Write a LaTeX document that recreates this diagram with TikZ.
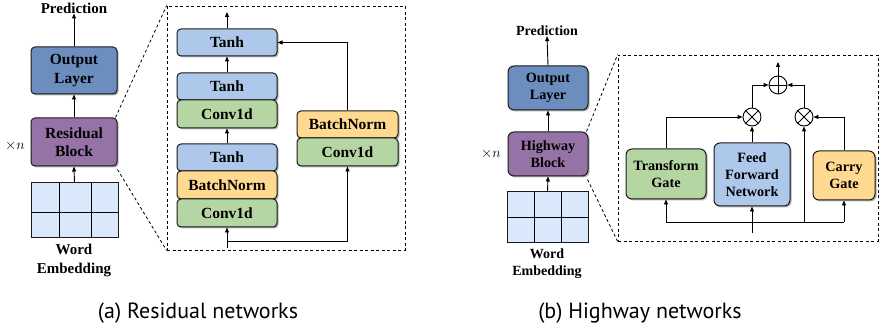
\documentclass[tikz,border=0pt]{standalone}
\usepackage{fontspec}
\setmainfont{Liberation Serif}
\newfontfamily\capfont{PT Sans}
\usetikzlibrary{arrows.meta,shadows,calc}
\definecolor{cOut}{HTML}{6C8EBF}
\definecolor{cPur}{HTML}{9673A6}
\definecolor{cBlu}{HTML}{ADC8EA}
\definecolor{cGrn}{HTML}{B5D5A2}
\definecolor{cOrg}{HTML}{FFD98F}
\definecolor{cGrid}{HTML}{DAE8FC}
\definecolor{cStroke}{HTML}{1A1A1A}
\tikzset{
  blk/.style={draw=cStroke, line width=1pt, rounded corners=4pt, align=center,
    font=\bfseries\fontsize{15.5}{18.5}\selectfont, inner sep=0pt,
    drop shadow={shadow xshift=1.5pt, shadow yshift=-1.5pt, fill=black, opacity=0.3}},
  blkR/.style={blk, font=\bfseries\fontsize{14.2}{17}\selectfont, rounded corners=6pt},
  lbl/.style={font=\bfseries\fontsize{15}{19}\selectfont, align=center, inner sep=0pt},
  lblR/.style={font=\bfseries\fontsize{14}{17}\selectfont, align=center, inner sep=0pt},
  arr/.style={-{Triangle[length=5pt,width=4pt]}, line width=0.9pt, black},
  ln/.style={line width=0.9pt, black},
  dsh/.style={dashed, line width=0.8pt, dash pattern=on 3pt off 2.5pt},
  opc/.style={circle, draw=black, line width=0.9pt, minimum size=18pt, inner sep=0pt, fill=white},
  captext/.style={font=\capfont\fontsize{22}{24}\selectfont, inner sep=0pt},
}
\begin{document}
\begin{tikzpicture}[x=1pt,y=-1pt]
\useasboundingbox[fill=white] (0,0) rectangle (879,331);

% ---------------- (a) Residual ----------------
\node[lbl] (pred1) at (74,8) {Prediction};
\node[blk, fill=cOut, minimum width=86pt, minimum height=47pt] (out1) at (74,70.5) {Output\\Layer};
\node[blk, fill=cPur, minimum width=86pt, minimum height=48pt] (res1) at (74,142) {Residual\\Block};
\node[draw=cStroke, line width=1pt, fill=cGrid, minimum width=87pt, minimum height=55pt, inner sep=0pt] (grid1) at (74.5,210.5) {};
\draw[ln] (59,183) -- (59,238) (91,183) -- (91,238) (31,212) -- (118,212);
\node[lbl] (we1) at (74,260.5) {Word\\Embedding};
\node[inner sep=0pt, font=\fontsize{14}{16}\selectfont] (xn1) at (15,146) {$\times n$};
\draw[arr] (grid1.north) -- (res1.south);
\draw[arr] (res1.north) -- (out1.south);
\draw[arr] (out1.north) -- (pred1.south);

\node[draw, dsh, minimum width=238pt, minimum height=244pt, inner sep=0pt] (box1) at (286,128) {};
\draw[dsh] ($(res1.north east)+(-2,0)$) -- (box1.north west);
\draw[dsh] ($(res1.south east)+(0,3)$) -- (box1.south west);

\node[blk, fill=cBlu, minimum width=100pt, minimum height=27pt] (t1) at (227,42.5) {Tanh};
\node[blk, fill=cBlu, minimum width=100pt, minimum height=27pt] (t2) at (227,86.5) {Tanh};
\node[blk, fill=cGrn, minimum width=100pt, minimum height=28pt] (c2) at (227,114) {Conv1d};
\node[blk, fill=cBlu, minimum width=100pt, minimum height=27pt] (t3) at (227,157.5) {Tanh};
\node[blk, fill=cOrg, minimum width=100pt, minimum height=28pt] (b3) at (227,185) {BatchNorm};
\node[blk, fill=cGrn, minimum width=100pt, minimum height=28pt] (c3) at (227,213) {Conv1d};
\node[blk, fill=cOrg, minimum width=101pt, minimum height=27pt] (b4) at (347.5,124.5) {BatchNorm};
\node[blk, fill=cGrn, minimum width=101pt, minimum height=28pt] (c4) at (347.5,152) {Conv1d};

\coordinate (o1) at (227,12);
\coordinate (in1) at (227,248);
\coordinate (br1) at (227,241);
\draw[arr] (t1.north) -- (o1);
\draw[arr] (t2.north) -- (t1.south);
\draw[arr] (t3.north) -- (c2.south);
\draw[arr] (in1) -- (c3.south);
\draw[arr] (br1) -| (c4.south);
\draw[arr] (b4.north) |- (t1.east);

% ---------------- (b) Highway ----------------
\node[lblR] (pred2) at (547,31) {Prediction};
\node[blkR, fill=cOut, minimum width=80pt, minimum height=44pt] (out2) at (548,88) {Output\\Layer};
\node[blkR, fill=cPur, minimum width=80pt, minimum height=44pt] (hw2) at (548,154) {Highway\\Block};
\node[draw=cStroke, line width=1pt, fill=cGrid, minimum width=81pt, minimum height=51pt, inner sep=0pt] (grid2) at (547.5,217.5) {};
\draw[ln] (534,192) -- (534,243) (561,192) -- (561,243) (507,217) -- (588,217);
\node[lblR] (we2) at (547,263.5) {Word\\Embedding};
\node[inner sep=0pt, font=\fontsize{13.5}{16}\selectfont] (xn2) at (491,154) {$\times n$};
\draw[arr] (grid2.north) -- (hw2.south);
\draw[arr] (hw2.north) -- (out2.south);
\draw[arr] (out2.north) -- (pred2.south);

\node[draw, dsh, minimum width=260pt, minimum height=186pt, inner sep=0pt] (box2) at (748,148) {};
\draw[dsh] ($(hw2.north east)+(-2,0)$) -- (box2.north west);
\draw[dsh] ($(hw2.south east)+(-1,3)$) -- (box2.south west);

\node[blkR, fill=cGrn, minimum width=80pt, minimum height=50pt] (tg) at (666,174) {Transform\\Gate};
\node[blkR, fill=cBlu, minimum width=76pt, minimum height=63pt] (ffn) at (752,174.5) {Feed\\Forward\\Network};
\node[blkR, fill=cOrg, minimum width=62pt, minimum height=49pt] (cg) at (844,175.5) {Carry\\Gate};

\node[opc] (op) at (778,85) {};
\draw[ln] (op.north) -- (op.south) (op.west) -- (op.east);
\node[opc] (otl) at (752,117) {};
\draw[ln] (otl.north west) -- (otl.south east) (otl.north east) -- (otl.south west);
\node[opc] (otr) at (804,117) {};
\draw[ln] (otr.north west) -- (otr.south east) (otr.north east) -- (otr.south west);

\coordinate (o2) at (778,62);
\coordinate (in2) at (752,233);
\coordinate (hl) at (666,222);
\coordinate (hr) at (844,222);
\coordinate (hm) at (804,222);
\draw[arr] (op.north) -- (o2);
\draw[arr] (tg.north) |- (otl.west);
\draw[arr] (ffn.north) -- (otl.south);
\draw[arr] (otl.north) |- (op.west);
\draw[arr] (otr.north) |- (op.east);
\draw[arr] (cg.north) |- (otr.east);
\draw[arr] (in2) -- (ffn.south);
\draw[ln] (hl) -- (hr);
\draw[arr] (hl) -- (tg.south);
\draw[arr] (hr) -- (cg.south);
\draw[arr] (hm) -- (otr.south);

% ---------------- captions ----------------
\node[captext] (capa) at (198,313) {(a) Residual networks};
\node[captext] (capb) at (640,313) {(b) Highway networks};
\end{tikzpicture}
\end{document}
